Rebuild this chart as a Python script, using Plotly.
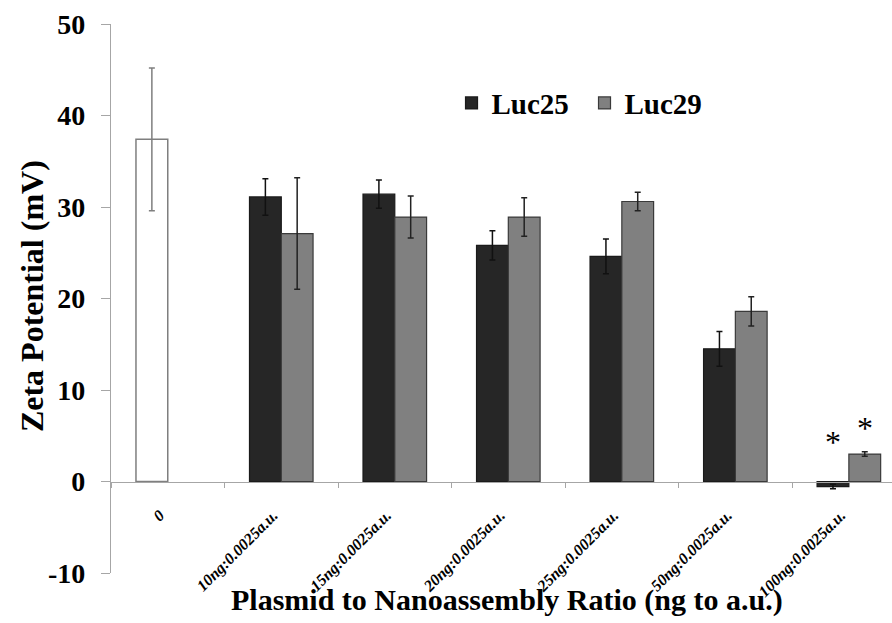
import plotly.graph_objects as go

# Categories (plasmid : nanoassembly ratio)
categories = ["0", "10ng:0.0025a.u.", "15ng:0.0025a.u.", "20ng:0.0025a.u.",
              "25ng:0.0025a.u.", "50ng:0.0025a.u.", "100ng:0.0025a.u."]
ratio_categories = categories[1:]

# Nanoassembly alone (no plasmid)
control_value = [37.4]
control_err = [7.8]

# Zeta potential (mV) for each plasmid
luc25_values = [31.1, 31.4, 25.8, 24.6, 14.5, -0.55]
luc25_err = [2.0, 1.55, 1.6, 1.9, 1.9, 0.25]
luc29_values = [27.1, 28.9, 28.9, 30.6, 18.6, 3.0]
luc29_err = [6.1, 2.3, 2.1, 1.0, 1.6, 0.25]

# Y axis ticks
y_tick_vals = [-10, 0, 10, 20, 30, 40, 50]
y_tick_text = ["-10", "0", "10", "20", "30", "40", "50"]

# Significance markers: (category, series offset in px, y in mV)
sig_marks = [("100ng:0.0025a.u.", -16, 4.3), ("100ng:0.0025a.u.", 16, 5.9)]

SERIF = "Liberation Serif"

fig = go.Figure()
fig.add_trace(go.Bar(
    x=categories[:1], y=control_value, name="Control", showlegend=False,
    offsetgroup="a",
    marker=dict(color="white", line=dict(color="#7f7f7f", width=1.5)),
    error_y=dict(type="data", array=control_err, color="#7f7f7f", thickness=1.5, width=3),
))
fig.add_trace(go.Bar(
    x=ratio_categories, y=luc25_values, name="Luc25", offsetgroup="a",
    marker=dict(color="#262626", line=dict(color="#1a1a1a", width=1.2)),
    error_y=dict(type="data", array=luc25_err, color="#111111", thickness=1.5, width=3),
))
fig.add_trace(go.Bar(
    x=ratio_categories, y=luc29_values, name="Luc29", offsetgroup="b",
    marker=dict(color="#808080", line=dict(color="#3a3a3a", width=1.2)),
    error_y=dict(type="data", array=luc29_err, color="#222222", thickness=1.5, width=3),
))

annotations = []
for cat, dx, yv in sig_marks:
    annotations.append(dict(
        x=cat, y=yv, xref="x", yref="y", text="*", showarrow=False,
        xshift=dx, font=dict(family=SERIF, size=32, color="black"),
        xanchor="center", yanchor="middle",
    ))

annotations.append(dict(
    text="Zeta Potential (mV)", textangle=-90, showarrow=False,
    xref="paper", yref="paper", x=-0.102, y=0.505,
    xanchor="center", yanchor="middle",
    font=dict(family=SERIF, size=32, color="black", weight="bold"),
))
annotations.append(dict(
    text="Plasmid to Nanoassembly Ratio (ng to a.u.)", showarrow=False,
    xref="paper", yref="paper", x=0.507, y=-0.049,
    xanchor="center", yanchor="middle",
    font=dict(family=SERIF, size=30, color="black", weight="bold"),
))

fig.update_layout(
    width=892, height=623,
    margin=dict(l=111, r=0, t=24, b=50),
    paper_bgcolor="white", plot_bgcolor="white",
    barmode="group", bargap=0.44, bargroupgap=0,
    showlegend=True,
    legend=dict(
        orientation="h", x=0.436, y=0.856, xanchor="left", yanchor="middle",
        font=dict(family=SERIF, size=29, color="black", weight="bold"),
        bgcolor="rgba(0,0,0,0)", itemwidth=30, traceorder="normal",
        entrywidth=88, entrywidthmode="pixels",
    ),
    annotations=annotations,
    xaxis=dict(
        type="category", categoryorder="array", categoryarray=categories,
        range=[-0.5, 6.38],
        anchor="free", position=10 / 60,
        showline=True, linecolor="#a6a6a6", linewidth=1.3,
        ticks="outside", tickson="boundaries", ticklen=5, tickcolor="#a6a6a6",
        tickangle=-45, ticklabelstandoff=17, ticklabelshift=-8,
        tickfont=dict(family=SERIF, size=16, color="black", weight="bold", style="italic"),
        showgrid=False, zeroline=False,
    ),
    yaxis=dict(
        range=[-10, 50], tickmode="array", tickvals=y_tick_vals, ticktext=y_tick_text,
        showline=True, linecolor="#a6a6a6", linewidth=1.3,
        ticks="outside", ticklen=9, tickcolor="#a6a6a6", ticklabelstandoff=10,
        tickfont=dict(family=SERIF, size=28, color="black", weight="bold"),
        showgrid=False, zeroline=False,
    ),
)

fig.write_html("out.html")
